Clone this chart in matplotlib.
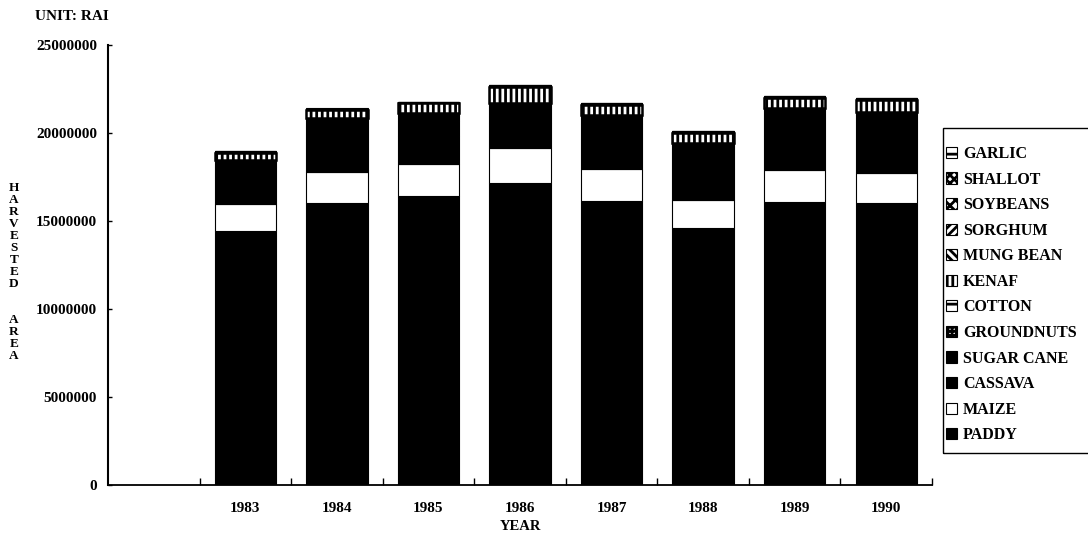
import numpy as np
import matplotlib
matplotlib.use("Agg")
import matplotlib.pyplot as plt
import matplotlib.patches as mpatches

plt.rcParams["font.family"] = ["Liberation Serif", "DejaVu Serif"]
plt.rcParams["font.weight"] = "bold"
plt.rcParams["hatch.linewidth"] = 2.0

# Harvested area by crop (rai), 1983-1990
years = ["1983", "1984", "1985", "1986", "1987", "1988", "1989", "1990"]
paddy      = [14430000, 16020000, 16420000, 17160000, 16140000, 14600000, 16080000, 16020000]
maize      = [1540000, 1760000, 1820000, 1990000, 1810000, 1590000, 1820000, 1710000]
cassava    = [1380000, 1700000, 1600000, 1400000, 1690000, 1780000, 1940000, 1910000]
sugar_cane = [720000, 880000, 830000, 740000, 890000, 940000, 1020000, 1000000]
groundnuts = [270000, 330000, 310000, 270000, 330000, 350000, 380000, 370000]
cotton     = [130000, 160000, 160000, 140000, 160000, 170000, 180000, 180000]
kenaf      = [410000, 450000, 540000, 930000, 580000, 580000, 580000, 700000]
mung_bean  = [40000, 40000, 40000, 40000, 40000, 40000, 40000, 40000]
sorghum    = [20000, 20000, 20000, 20000, 20000, 20000, 20000, 20000]
soybeans   = [20000, 20000, 20000, 20000, 20000, 20000, 20000, 20000]
shallot    = [10000, 10000, 10000, 10000, 10000, 10000, 10000, 10000]
garlic     = [10000, 10000, 10000, 10000, 10000, 10000, 10000, 10000]

crop_names = ["PADDY", "MAIZE", "CASSAVA", "SUGAR CANE", "GROUNDNUTS", "COTTON",
              "KENAF", "MUNG BEAN", "SORGHUM", "SOYBEANS", "SHALLOT", "GARLIC"]
crop_values = [paddy, maize, cassava, sugar_cane, groundnuts, cotton,
               kenaf, mung_bean, sorghum, soybeans, shallot, garlic]

y_ticks = [0, 5000000, 10000000, 15000000, 20000000, 25000000]

W, H = 1088, 535
fig = plt.figure(figsize=(W / 100, H / 100), dpi=100)
fig.patch.set_facecolor("white")
ax = fig.add_axes([108 / W, 1 - 485 / H, (932 - 108) / W, (485 - 45) / H])

# first category slot is left empty; years occupy slots 1..8
x = np.arange(1, len(years) + 1)
bar_w = 0.67
bottom = np.zeros(len(years))
for name, vals in zip(crop_names, crop_values):
    vals = np.asarray(vals, dtype=float)
    if name == "MAIZE":
        ax.bar(x, vals, bar_w, bottom=bottom, facecolor="white",
               edgecolor="black", linewidth=0.8)
    elif name == "KENAF":
        ax.bar(x, vals, bar_w, bottom=bottom, facecolor="black",
               edgecolor="white", hatch="|||", linewidth=0)
        ax.bar(x, vals, bar_w, bottom=bottom, facecolor="none",
               edgecolor="black", linewidth=1.8)
    else:
        ax.bar(x, vals, bar_w, bottom=bottom, facecolor="black",
               edgecolor="black", linewidth=0.8)
    bottom += vals

ax.set_xlim(-0.5, 8.5)
ax.set_ylim(0, 25000000)

for side in ("top", "right"):
    ax.spines[side].set_visible(False)
ax.spines["left"].set_linewidth(1.5)
ax.spines["bottom"].set_linewidth(1.3)

ax.set_yticks(y_ticks)
ax.set_yticklabels([str(v) for v in y_ticks])
ax.tick_params(axis="y", direction="in", length=3, width=1, pad=8, labelsize=11)

ax.set_xticks(x)
ax.set_xticklabels(years)
ax.tick_params(axis="x", which="major", length=0, pad=12, labelsize=11)
ax.set_xticks(np.arange(0.5, 9, 1.0), minor=True)
ax.tick_params(axis="x", which="minor", direction="in", length=5, width=1)

fig.text(520 / W, 1 - 526 / H, "YEAR", ha="center", va="center", fontsize=10.5,
         fontweight="bold")
fig.text(72 / W, 1 - 17 / H, "UNIT: RAI", ha="center", va="center", fontsize=11,
         fontweight="bold")
ylabel = "\n".join("HARVESTED") + "\n\n\n" + "\n".join("AREA")
fig.text(14 / W, 1 - 272 / H, ylabel, ha="center", va="center", fontsize=9.5,
         fontweight="bold", linespacing=1.0, multialignment="center")

# legend, listed from top (GARLIC) to bottom (PADDY)
legend_styles = {
    "GARLIC":     dict(facecolor="white", hatch="--"),
    "SHALLOT":    dict(facecolor="white", hatch="xxxx"),
    "SOYBEANS":   dict(facecolor="white", hatch="xxx"),
    "SORGHUM":    dict(facecolor="white", hatch="////"),
    "MUNG BEAN":  dict(facecolor="white", hatch="\\\\\\\\"),
    "KENAF":      dict(facecolor="white", hatch="|||"),
    "COTTON":     dict(facecolor="white", hatch="--"),
    "GROUNDNUTS": dict(facecolor="white", hatch="++++"),
    "SUGAR CANE": dict(facecolor="black", hatch=None),
    "CASSAVA":    dict(facecolor="black", hatch=None),
    "MAIZE":      dict(facecolor="white", hatch=None),
    "PADDY":      dict(facecolor="black", hatch=None),
}
handles = [mpatches.Patch(edgecolor="black", linewidth=0.8, label=n,
                          **legend_styles[n]) for n in reversed(crop_names)]
leg = fig.legend(handles=handles, loc="upper left",
                 bbox_to_anchor=(946 / W, 1 - 146 / H), frameon=False,
                 fontsize=11.5, handlelength=0.7, handleheight=0.7,
                 handletextpad=0.35, labelspacing=0.6, borderaxespad=0,
                 borderpad=0)
fig.add_artist(mpatches.Rectangle((943 / W, 1 - 453 / H), 160 / W,
                                  (453 - 128) / H, transform=fig.transFigure,
                                  facecolor="none", edgecolor="black",
                                  linewidth=1.0, clip_on=False))

fig.savefig("out.png", dpi=100, facecolor="white")
